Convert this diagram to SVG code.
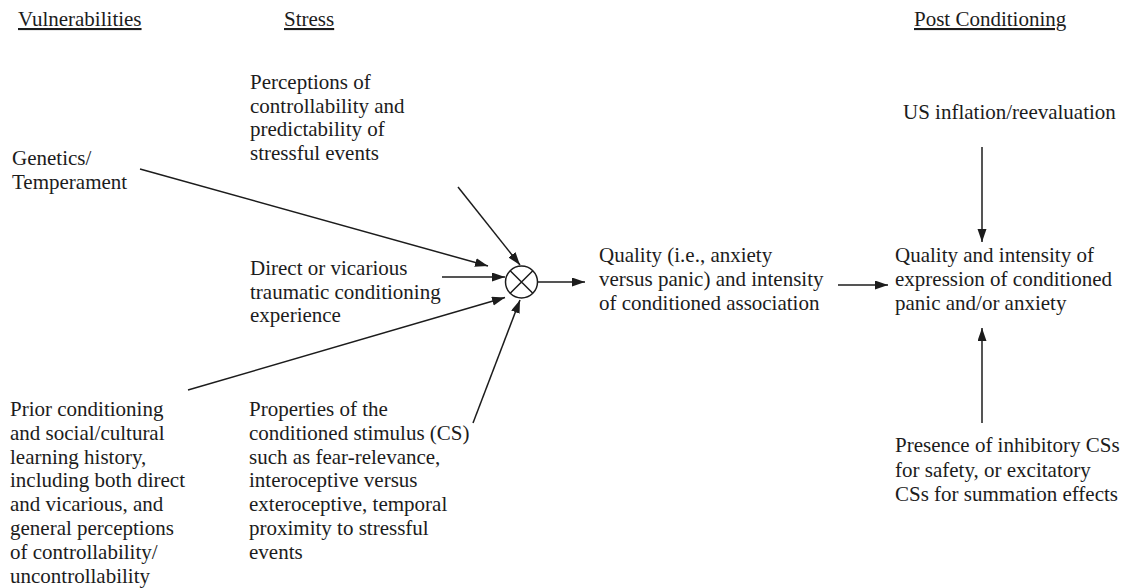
<svg xmlns="http://www.w3.org/2000/svg" width="1125" height="588" viewBox="0 0 1125 588">
<style>
text{font-family:"Liberation Serif","Times New Roman",serif;font-size:21px;fill:#1c1c1c}
.hdr{text-decoration:underline}
.ln{stroke:#1c1c1c;stroke-width:1.5;fill:none}
</style>
<defs>
<marker id="ah" markerUnits="userSpaceOnUse" markerWidth="14" markerHeight="10" refX="13" refY="4.5" orient="auto">
<path d="M0,0 L13,4.5 L0,9 z" fill="#1c1c1c"/>
</marker>
</defs>
<rect width="1125" height="588" fill="#fff"/>
<g id="headers">
<text class="hdr" x="18" y="26">Vulnerabilities</text>
<text class="hdr" x="284" y="26">Stress</text>
<text class="hdr" x="914" y="26">Post Conditioning</text>
</g>
<g id="genetics">
<text x="12" y="165">Genetics/</text>
<text x="12" y="189">Temperament</text>
</g>
<g id="prior">
<text x="10" y="416">Prior conditioning</text>
<text x="10" y="439.8">and social/cultural</text>
<text x="10" y="463.6">learning history,</text>
<text x="10" y="487.4">including both direct</text>
<text x="10" y="511.2">and vicarious, and</text>
<text x="10" y="535">general perceptions</text>
<text x="10" y="558.8">of controllability/</text>
<text x="10" y="582.6">uncontrollability</text>
</g>
<g id="perceptions">
<text x="250" y="89">Perceptions of</text>
<text x="250" y="112.5">controllability and</text>
<text x="250" y="136">predictability of</text>
<text x="250" y="159.5">stressful events</text>
</g>
<g id="direct">
<text x="250" y="275">Direct or vicarious</text>
<text x="250" y="298.5">traumatic conditioning</text>
<text x="250" y="322">experience</text>
</g>
<g id="properties">
<text x="249" y="416">Properties of the</text>
<text x="249" y="439.8">conditioned stimulus (CS)</text>
<text x="249" y="463.6">such as fear-relevance,</text>
<text x="249" y="487.4">interoceptive versus</text>
<text x="249" y="511.2">exteroceptive, temporal</text>
<text x="249" y="535">proximity to stressful</text>
<text x="249" y="558.8">events</text>
</g>
<g id="combine">
<circle cx="521.5" cy="282" r="16" class="ln"/>
<path class="ln" d="M510.2,270.7 L532.8,293.3 M532.8,270.7 L510.2,293.3"/>
</g>
<g id="association">
<text x="599" y="262">Quality (i.e., anxiety</text>
<text x="599" y="286">versus panic) and intensity</text>
<text x="599" y="310">of conditioned association</text>
</g>
<g id="us-inflation">
<text x="903" y="119">US inflation/reevaluation</text>
</g>
<g id="expression">
<text x="895" y="262">Quality and intensity of</text>
<text x="895" y="286">expression of conditioned</text>
<text x="895" y="310">panic and/or anxiety</text>
</g>
<g id="inhibitory">
<text x="895" y="452">Presence of inhibitory CSs</text>
<text x="895" y="476.5">for safety, or excitatory</text>
<text x="895" y="501">CSs for summation effects</text>
</g>
<g id="connectors">
<line class="ln" x1="140" y1="169" x2="488" y2="266" marker-end="url(#ah)"/>
<line class="ln" x1="458" y1="187" x2="520" y2="265" marker-end="url(#ah)"/>
<line class="ln" x1="442" y1="277" x2="505" y2="277" marker-end="url(#ah)"/>
<line class="ln" x1="188" y1="390" x2="505" y2="297.5" marker-end="url(#ah)"/>
<line class="ln" x1="473" y1="423" x2="520" y2="300" marker-end="url(#ah)"/>
<line class="ln" x1="538" y1="282" x2="585" y2="282" marker-end="url(#ah)"/>
<line class="ln" x1="838" y1="285" x2="888" y2="285" marker-end="url(#ah)"/>
<line class="ln" x1="982" y1="147" x2="982" y2="242" marker-end="url(#ah)"/>
<line class="ln" x1="982" y1="423" x2="982" y2="328" marker-end="url(#ah)"/>
</g>
</svg>
